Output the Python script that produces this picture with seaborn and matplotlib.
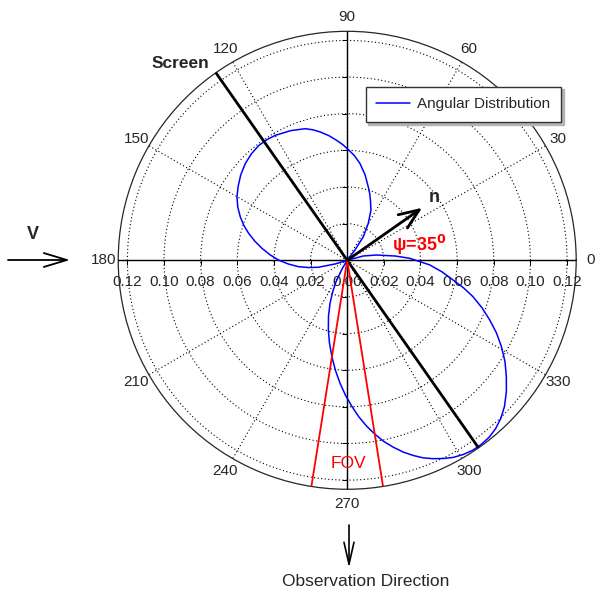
import numpy as np
import pandas as pd
import matplotlib
matplotlib.use("Agg")
import matplotlib.pyplot as plt
import seaborn as sns

# angular distribution (angle in degrees, radius)
big_lobe_theta = [20, 15, 10.2, 5.0, 1.8, -3.2, -6.9, -10.5, -13.3, -16.1, -19.4, -22.7,
                  -25.9, -29.2, -32.6, -36.1, -39.5, -42.9, -45.8, -48.6, -51.2, -53.8,
                  -56.5, -59.1, -61.7, -64.2, -66.6, -69.0, -71.3, -73.7, -76.2, -78.7,
                  -81.0, -83.3, -85.8, -88.2, -90.8, -93.4, -96.2, -99.1, -102.1, -105.2,
                  -108.5, -111.8, -114.6, -117.5, -121, -123]
big_lobe_r = [0, 0.0091, 0.0163, 0.0265, 0.0342, 0.0451, 0.0520, 0.0587, 0.0652, 0.0714,
              0.0780, 0.0843, 0.0905, 0.0964, 0.1022, 0.1075, 0.1126, 0.1172, 0.1203,
              0.1225, 0.1238, 0.1243, 0.1243, 0.1235, 0.1222, 0.1202, 0.1180, 0.1155,
              0.1125, 0.1091, 0.1050, 0.1007, 0.0960, 0.0912, 0.0856, 0.0797, 0.0735,
              0.0671, 0.0602, 0.0531, 0.0462, 0.0393, 0.0322, 0.0252, 0.0192, 0.0134,
              0.0050, 0]
small_lobe_theta = [48, 52.9, 55.7, 60.3, 64.7, 68.9, 71.4, 74.0, 78.2, 82.5, 86.0, 89.4,
                    92.2, 95.0, 98.4, 101.9, 104.8, 107.7, 113.5, 119.9, 123.7, 127.6,
                    132.0, 136.5, 141.3, 146.1, 150.1, 154.0, 157.9, 161.3, 164.7, 168.3,
                    172.0, 175.9, 179.8, 183.6, 187.5, 190.6, 193.6, 196.9, 198]
small_lobe_r = [0, 0.0070, 0.0156, 0.0232, 0.0303, 0.0352, 0.0385, 0.0417, 0.0477, 0.0533,
                0.0572, 0.0604, 0.0632, 0.0657, 0.0688, 0.0716, 0.0737, 0.0754, 0.0772,
                0.0787, 0.0791, 0.0791, 0.0782, 0.0767, 0.0745, 0.0718, 0.0694, 0.0665,
                0.0630, 0.0596, 0.0558, 0.0515, 0.0470, 0.0423, 0.0375, 0.0322, 0.0268,
                0.0215, 0.0162, 0.0069, 0]

angle_ticks = [0, 30, 60, 90, 120, 150, 180, 210, 240, 270, 300, 330]
radius_ticks = [0.02, 0.04, 0.06, 0.08, 0.10, 0.12]
r_max = 0.125
normal_angle = 35
normal_length = 0.05
screen_angle = 125
fov_angles = [261, 279]

sns.set_style("white")
plt.rcParams["font.family"] = ["Liberation Sans", "DejaVu Sans"]

df = pd.DataFrame({
    "theta": np.deg2rad(big_lobe_theta + small_lobe_theta),
    "r": big_lobe_r + small_lobe_r,
})

fig = plt.figure(figsize=(5.95, 5.94), dpi=100)
ax = fig.add_axes([0.1987, 0.1763, 0.7697, 0.771], projection="polar")

sns.lineplot(data=df, x="theta", y="r", sort=False, estimator=None, color="blue",
             lw=1.1, ax=ax, label="Angular Distribution", zorder=5)

ax.set_rlim(0, r_max)
ax.set_rticks(radius_ticks)
ax.set_yticklabels([])
ax.set_thetagrids(angle_ticks, [str(a) for a in angle_ticks], fontsize=11)
ax.grid(True, color="black", linestyle=(0, (1, 2.2)), linewidth=0.8)
ax.spines["polar"].set_linewidth(0.9)
ax.tick_params(axis="x", pad=0.5, direction="inout", length=6, width=0.8)
ax.set_xlabel("")
ax.set_ylabel("")

# solid axes through the centre with small ticks
ax.plot([0, 0, np.pi], [r_max, 0, r_max], color="black", lw=1, zorder=3)
ax.plot([np.pi / 2, np.pi / 2, 3 * np.pi / 2], [r_max, 0, r_max], color="black", lw=1, zorder=3)
for a in [0, np.pi]:
    ax.plot([a] * len(radius_ticks), radius_ticks, ls="none", marker=3, ms=3.5,
            mew=0.7, color="black", zorder=3)
for a in [np.pi / 2, 3 * np.pi / 2]:
    ax.plot([a] * len(radius_ticks), radius_ticks, ls="none", marker=0, ms=3.5,
            mew=0.7, color="black", zorder=3)

# radial labels along the horizontal axis
for a in [0, np.pi]:
    for rv in radius_ticks:
        ax.annotate(f"{rv:.2f}", xy=(a, rv), xytext=(0, -15.5), textcoords="offset points",
                    ha="center", va="center", fontsize=11, annotation_clip=False)
ax.annotate("0.00", xy=(0, 0), xytext=(0, -15.5), textcoords="offset points",
            ha="center", va="center", fontsize=11)

# screen, field of view and normal
sa = np.deg2rad(screen_angle)
ax.plot([sa, sa, sa + np.pi], [r_max, 0, r_max], color="black", lw=2, zorder=6)
fa = np.deg2rad(fov_angles)
ax.plot([fa[0], fa[0], fa[1]], [r_max, 0, r_max], color="red", lw=1.3, zorder=6)
ax.annotate("", xy=(np.deg2rad(normal_angle), normal_length), xytext=(0, 0),
            arrowprops=dict(arrowstyle="->,head_length=1.44,head_width=0.58", lw=2,
                            color="black", shrinkA=0, shrinkB=0, mutation_scale=10),
            zorder=7)

leg = ax.legend(loc="upper left", bbox_to_anchor=(365.5 / 595, 1 - 86.5 / 594),
                bbox_transform=fig.transFigure, borderaxespad=0, fontsize=11,
                handlelength=2.2, handletextpad=0.5, borderpad=0.7, fancybox=False,
                framealpha=1, edgecolor="#333333", shadow={"color": "0.7", "alpha": 1})
leg.get_frame().set_linewidth(1)

# annotations around the plot
fig.text(180 / 595, 1 - 64 / 594, "Screen", fontsize=12.5, fontweight="bold",
         ha="center", va="center")
fig.text(33 / 595, 1 - 235 / 594, "V", fontsize=13, fontweight="bold",
         ha="center", va="center")
fig.text(434.5 / 595, 1 - 197 / 594, "n", fontsize=13, fontweight="bold",
         ha="center", va="center")
fig.text(419 / 595, 1 - 245 / 594, "ψ=35$^{\\mathbf{0}}$", fontsize=13,
         fontweight="bold", color="red", ha="center", va="center")
fig.text(348 / 595, 1 - 464 / 594, "FOV", fontsize=12.5, color="red",
         ha="center", va="center")
fig.text(365.5 / 595, 1 - 582 / 594, "Observation Direction", fontsize=12.5,
         ha="center", va="center")

ax.annotate("", xy=(70 / 595, 1 - 260 / 594), xytext=(8 / 595, 1 - 260 / 594),
            xycoords="figure fraction", textcoords="figure fraction",
            arrowprops=dict(arrowstyle="->,head_length=1.66,head_width=0.5", lw=1.3,
                            color="black", shrinkA=0, shrinkB=0, mutation_scale=10),
            annotation_clip=False)
ax.annotate("", xy=(349 / 595, 1 - 568 / 594), xytext=(349 / 595, 1 - 525 / 594),
            xycoords="figure fraction", textcoords="figure fraction",
            arrowprops=dict(arrowstyle="->,head_length=1.58,head_width=0.36", lw=1.2,
                            color="black", shrinkA=0, shrinkB=0, mutation_scale=10),
            annotation_clip=False)

fig.savefig("out.png", dpi=100)
